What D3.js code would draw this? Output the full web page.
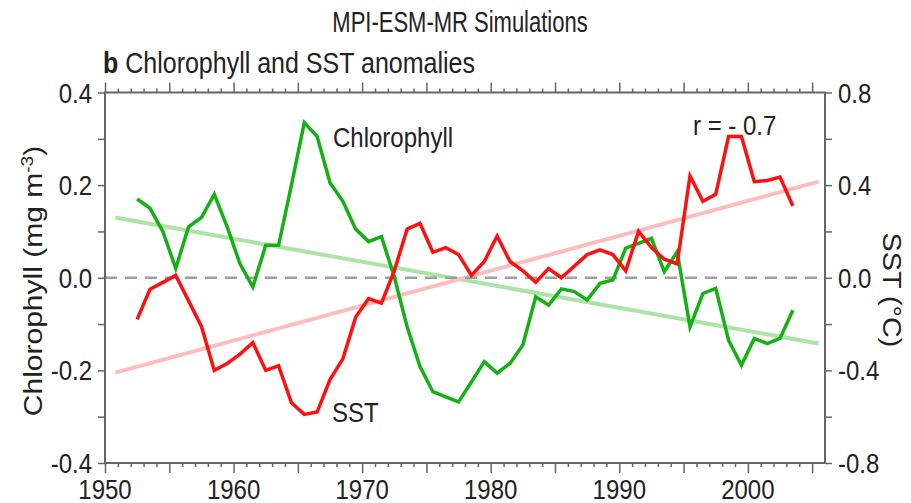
<!DOCTYPE html>
<html>
<head>
<meta charset="utf-8">
<script src="https://cdn.jsdelivr.net/npm/d3@7"></script>
<style>
  body { margin: 0; background: #fff; }
  svg { font-family: "Liberation Sans", Arial, Helvetica, sans-serif; }
</style>
</head>
<body>
<svg id="chart" width="911" height="503"></svg>
<script>
// annual values, plotted at mid-year
const years = d3.range(1952, 2004);
const chl = [0.17, 0.15, 0.10, 0.02, 0.11, 0.13, 0.18, 0.11, 0.03, -0.02,
             0.07, 0.07, 0.20, 0.335, 0.305, 0.205, 0.165, 0.105, 0.078, 0.089,
             0.002, -0.106, -0.192, -0.246, -0.257, -0.268, -0.225, -0.181, -0.206, -0.185,
             -0.145, -0.041, -0.059, -0.024, -0.03, -0.048, -0.012, -0.005, 0.064, 0.074,
             0.085, 0.013, 0.056, -0.106, -0.034, -0.023, -0.135, -0.189, -0.131, -0.142,
             -0.131, -0.07];
const sst = [-0.18, -0.05, -0.02, 0.01, -0.10, -0.21, -0.40, -0.37, -0.33, -0.28,
             -0.40, -0.38, -0.54, -0.59, -0.58, -0.44, -0.35, -0.17, -0.09, -0.11,
             0.03, 0.21, 0.235, 0.11, 0.13, 0.10, 0.01, 0.07, 0.18, 0.07,
             0.03, -0.02, 0.04, 0.0, 0.05, 0.10, 0.12, 0.10, 0.03, 0.20,
             0.13, 0.08, 0.06, 0.44, 0.33, 0.36, 0.61, 0.61, 0.415, 0.42,
             0.435, 0.31];

// linear trends (end points)
const trendYears = [1950.8, 2005.5];
const chlTrend = [0.130, -0.142];
const sstTrend = [-0.41, 0.415];

const xTicks = [1950, 1960, 1970, 1980, 1990, 2000];
const chlTicks = [-0.4, -0.2, 0.0, 0.2, 0.4];
const sstTicks = [-0.8, -0.4, 0.0, 0.4, 0.8];

const svg = d3.select("#chart");
const margin = {left: 105, right: 825, top: 92.5, bottom: 463};
const k = 1.15; // glyphs in the figure are a little taller than wide

const x = d3.scaleLinear().domain([1950, 2006]).range([margin.left, margin.right]);
const yL = d3.scaleLinear().domain([-0.4, 0.4]).range([margin.bottom, margin.top]);
const yR = d3.scaleLinear().domain([-0.8, 0.8]).range([margin.bottom, margin.top]);

function label(px, py, txt, size, anchor, sy) {
  return svg.append("text")
    .attr("transform", "translate(" + px + "," + py + ") scale(1," + (sy || k) + ")")
    .attr("font-size", size)
    .attr("text-anchor", anchor || "start")
    .attr("fill", "#222")
    .text(txt);
}

// trend lines
const trend = (vals, y) => d3.line().x((d, i) => x(trendYears[i])).y(d => y(d))(vals);
svg.append("path").attr("d", trend(chlTrend, yL))
  .attr("fill", "none").attr("stroke", "#ace3a6").attr("stroke-width", 4);
svg.append("path").attr("d", trend(sstTrend, yR))
  .attr("fill", "none").attr("stroke", "#ffbcbc").attr("stroke-width", 4);

// zero line
svg.append("line")
  .attr("x1", margin.left).attr("x2", margin.right)
  .attr("y1", yL(0)).attr("y2", yL(0))
  .attr("stroke", "#a0a0a0").attr("stroke-width", 2.5)
  .attr("stroke-dasharray", "12,8");

// series
const line = (vals, y) => d3.line().x((d, i) => x(years[i] + 0.5)).y(d => y(d))(vals);
svg.append("path").attr("d", line(chl, yL))
  .attr("fill", "none").attr("stroke", "#14b014").attr("stroke-width", 3.5);
svg.append("path").attr("d", line(sst, yR))
  .attr("fill", "none").attr("stroke", "#ff1010").attr("stroke-width", 3.5);

// axes
const allYears = d3.range(1950, 2006);
const tickLen = d => (d % 5 === 0 ? 10 : 4);

function styleAxis(g) {
  g.select(".domain").remove();
  g.selectAll("line").attr("stroke", "#666").attr("stroke-width", 1.5);
}

svg.append("g").attr("transform", "translate(0," + margin.bottom + ")")
  .call(d3.axisBottom(x).tickValues(allYears).tickFormat("").tickSizeOuter(0))
  .call(styleAxis)
  .selectAll(".tick line").attr("y2", d => tickLen(d));

svg.append("g").attr("transform", "translate(0," + margin.top + ")")
  .call(d3.axisTop(x).tickValues(allYears).tickFormat("").tickSizeOuter(0))
  .call(styleAxis)
  .selectAll(".tick line").attr("y2", d => -tickLen(d));

svg.append("g").attr("transform", "translate(" + margin.left + ",0)")
  .call(d3.axisLeft(yL).tickValues(d3.range(-4, 5).map(d => d / 10)).tickFormat("").tickSize(7).tickSizeOuter(0))
  .call(styleAxis);

svg.append("g").attr("transform", "translate(" + margin.right + ",0)")
  .call(d3.axisRight(yR).tickValues(d3.range(-8, 9, 2).map(d => d / 10)).tickFormat("").tickSize(7).tickSizeOuter(0))
  .call(styleAxis);

// frame
svg.append("rect")
  .attr("x", margin.left).attr("y", margin.top)
  .attr("width", margin.right - margin.left).attr("height", margin.bottom - margin.top)
  .attr("fill", "none").attr("stroke", "#666").attr("stroke-width", 2);

// tick labels
xTicks.forEach(t => label(x(t), 499, t, 24, "middle"));
chlTicks.forEach(t => label(92, yL(t) + 10, t.toFixed(1), 24, "end"));
sstTicks.forEach(t => label(838, yR(t) + 10, t.toFixed(1), 24, "start"));

// axis titles
const yl = svg.append("text")
  .attr("transform", "translate(42,281) rotate(-90) scale(1.2,1)")
  .attr("font-size", 25).attr("text-anchor", "middle").attr("fill", "#222");
yl.append("tspan").text("Chlorophyll (mg m");
yl.append("tspan").attr("font-size", 16).attr("dy", -9).text("-3");
yl.append("tspan").attr("dy", 9).text(")");

svg.append("text")
  .attr("transform", "translate(883,290) rotate(90) scale(" + k + ",1)")
  .attr("font-size", 25).attr("text-anchor", "middle").attr("fill", "#222")
  .text("SST (\u00B0C)");

// titles and annotations
label(460, 32, "MPI-ESM-MR Simulations", 22, "middle", 1.3);
const sub = label(103, 73, "", 25, "start");
sub.append("tspan").attr("font-weight", "bold").text("b");
sub.append("tspan").text(" Chlorophyll and SST anomalies");

label(333, 147, "Chlorophyll", 24);
label(332, 422, "SST", 24);
label(693, 135, "r = - 0.7", 24);
</script>
</body>
</html>
